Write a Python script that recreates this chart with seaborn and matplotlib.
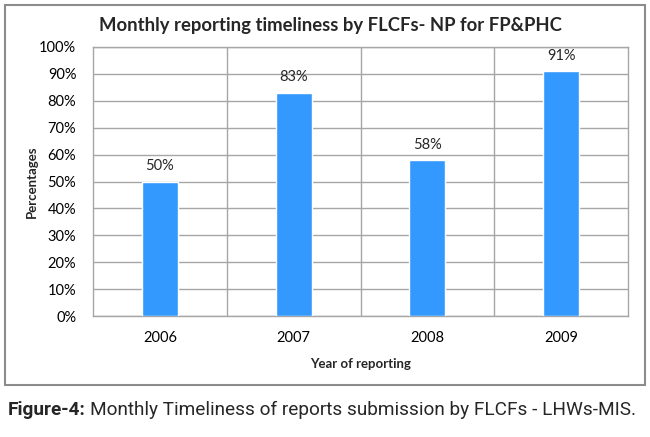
import matplotlib
matplotlib.use("Agg")
import matplotlib.pyplot as plt
import seaborn as sns
import pandas as pd
from matplotlib.patches import Rectangle
from matplotlib.ticker import MultipleLocator, FuncFormatter

years = ["2006", "2007", "2008", "2009"]
values = [50, 83, 58, 91]
labels = ["50%", "83%", "58%", "91%"]

sns.set_theme(style="white")
plt.rcParams['font.family'] = ['Lato', 'DejaVu Sans']

df = pd.DataFrame({"year": years, "pct": values})

W, H = 650, 437
fig = plt.figure(figsize=(6.5, 4.37), dpi=100)
ax = fig.add_axes([93 / W, 1 - 316 / H, (628 - 93) / W, (316 - 47) / H])

sns.barplot(data=df, x="year", y="pct", color="#3399FF", saturation=1,
            width=0.27, ax=ax, zorder=3)

ax.set_ylim(0, 100)
ax.set_xlim(-0.5, 3.5)
ax.yaxis.set_major_locator(MultipleLocator(10))
ax.yaxis.set_major_formatter(FuncFormatter(lambda v, p: f"{int(round(v))}%"))
ax.grid(axis="y", color="#a6a6a6", linewidth=1, zorder=0)
for xb in [0.5, 1.5, 2.5]:
    ax.axvline(xb, color="#a6a6a6", linewidth=1, zorder=0)
for s in ax.spines.values():
    s.set_color("#a6a6a6")
    s.set_linewidth(1)
ax.tick_params(axis="both", length=0, labelsize=10.5, colors="black")
ax.tick_params(axis="x", pad=11)
ax.tick_params(axis="y", pad=12)
ax.set_xlabel("Year of reporting", fontsize=9.5, fontweight="bold", labelpad=9)
ax.set_ylabel("Percentages", fontsize=9.5, fontweight="bold", labelpad=1)

for i, (v, t) in enumerate(zip(values, labels)):
    ax.annotate(t, (i, v), xytext=(0, 6), textcoords="offset points",
                ha="center", va="bottom", fontsize=10.5)

fig.text(330 / W, 1 - 25 / H, "Monthly reporting timeliness by FLCFs- NP for FP&PHC",
         ha="center", va="center", fontsize=13.3, fontweight="bold")

fig.patches.append(Rectangle((5 / W, 1 - 385 / H), (645 - 5) / W, (385 - 5) / H,
                             transform=fig.transFigure, fill=False,
                             edgecolor="#8c8c8c", linewidth=1.5))

cap_font = ['Roboto', 'DejaVu Sans']
t1 = fig.text(8 / W, 1 - 410 / H, "Figure-4:", ha="left", va="center", fontsize=14,
              fontweight="bold", family=cap_font)
t2 = fig.text(0, 1 - 410 / H, "Monthly Timeliness of reports submission by FLCFs - LHWs-MIS.",
              ha="left", va="center", fontsize=14, family=cap_font)
fig.canvas.draw()
r = fig.canvas.get_renderer()
w1 = t1.get_window_extent(r).width
w2 = t2.get_window_extent(r).width
scale = (640 - 8 - 4) / (w1 + w2)
fs = 14 * scale
t1.set_fontsize(fs)
t2.set_fontsize(fs)
fig.canvas.draw()
w1 = t1.get_window_extent(r).width
t2.set_x((8 + w1 + 4) / W)

fig.savefig("out.png", dpi=100)
